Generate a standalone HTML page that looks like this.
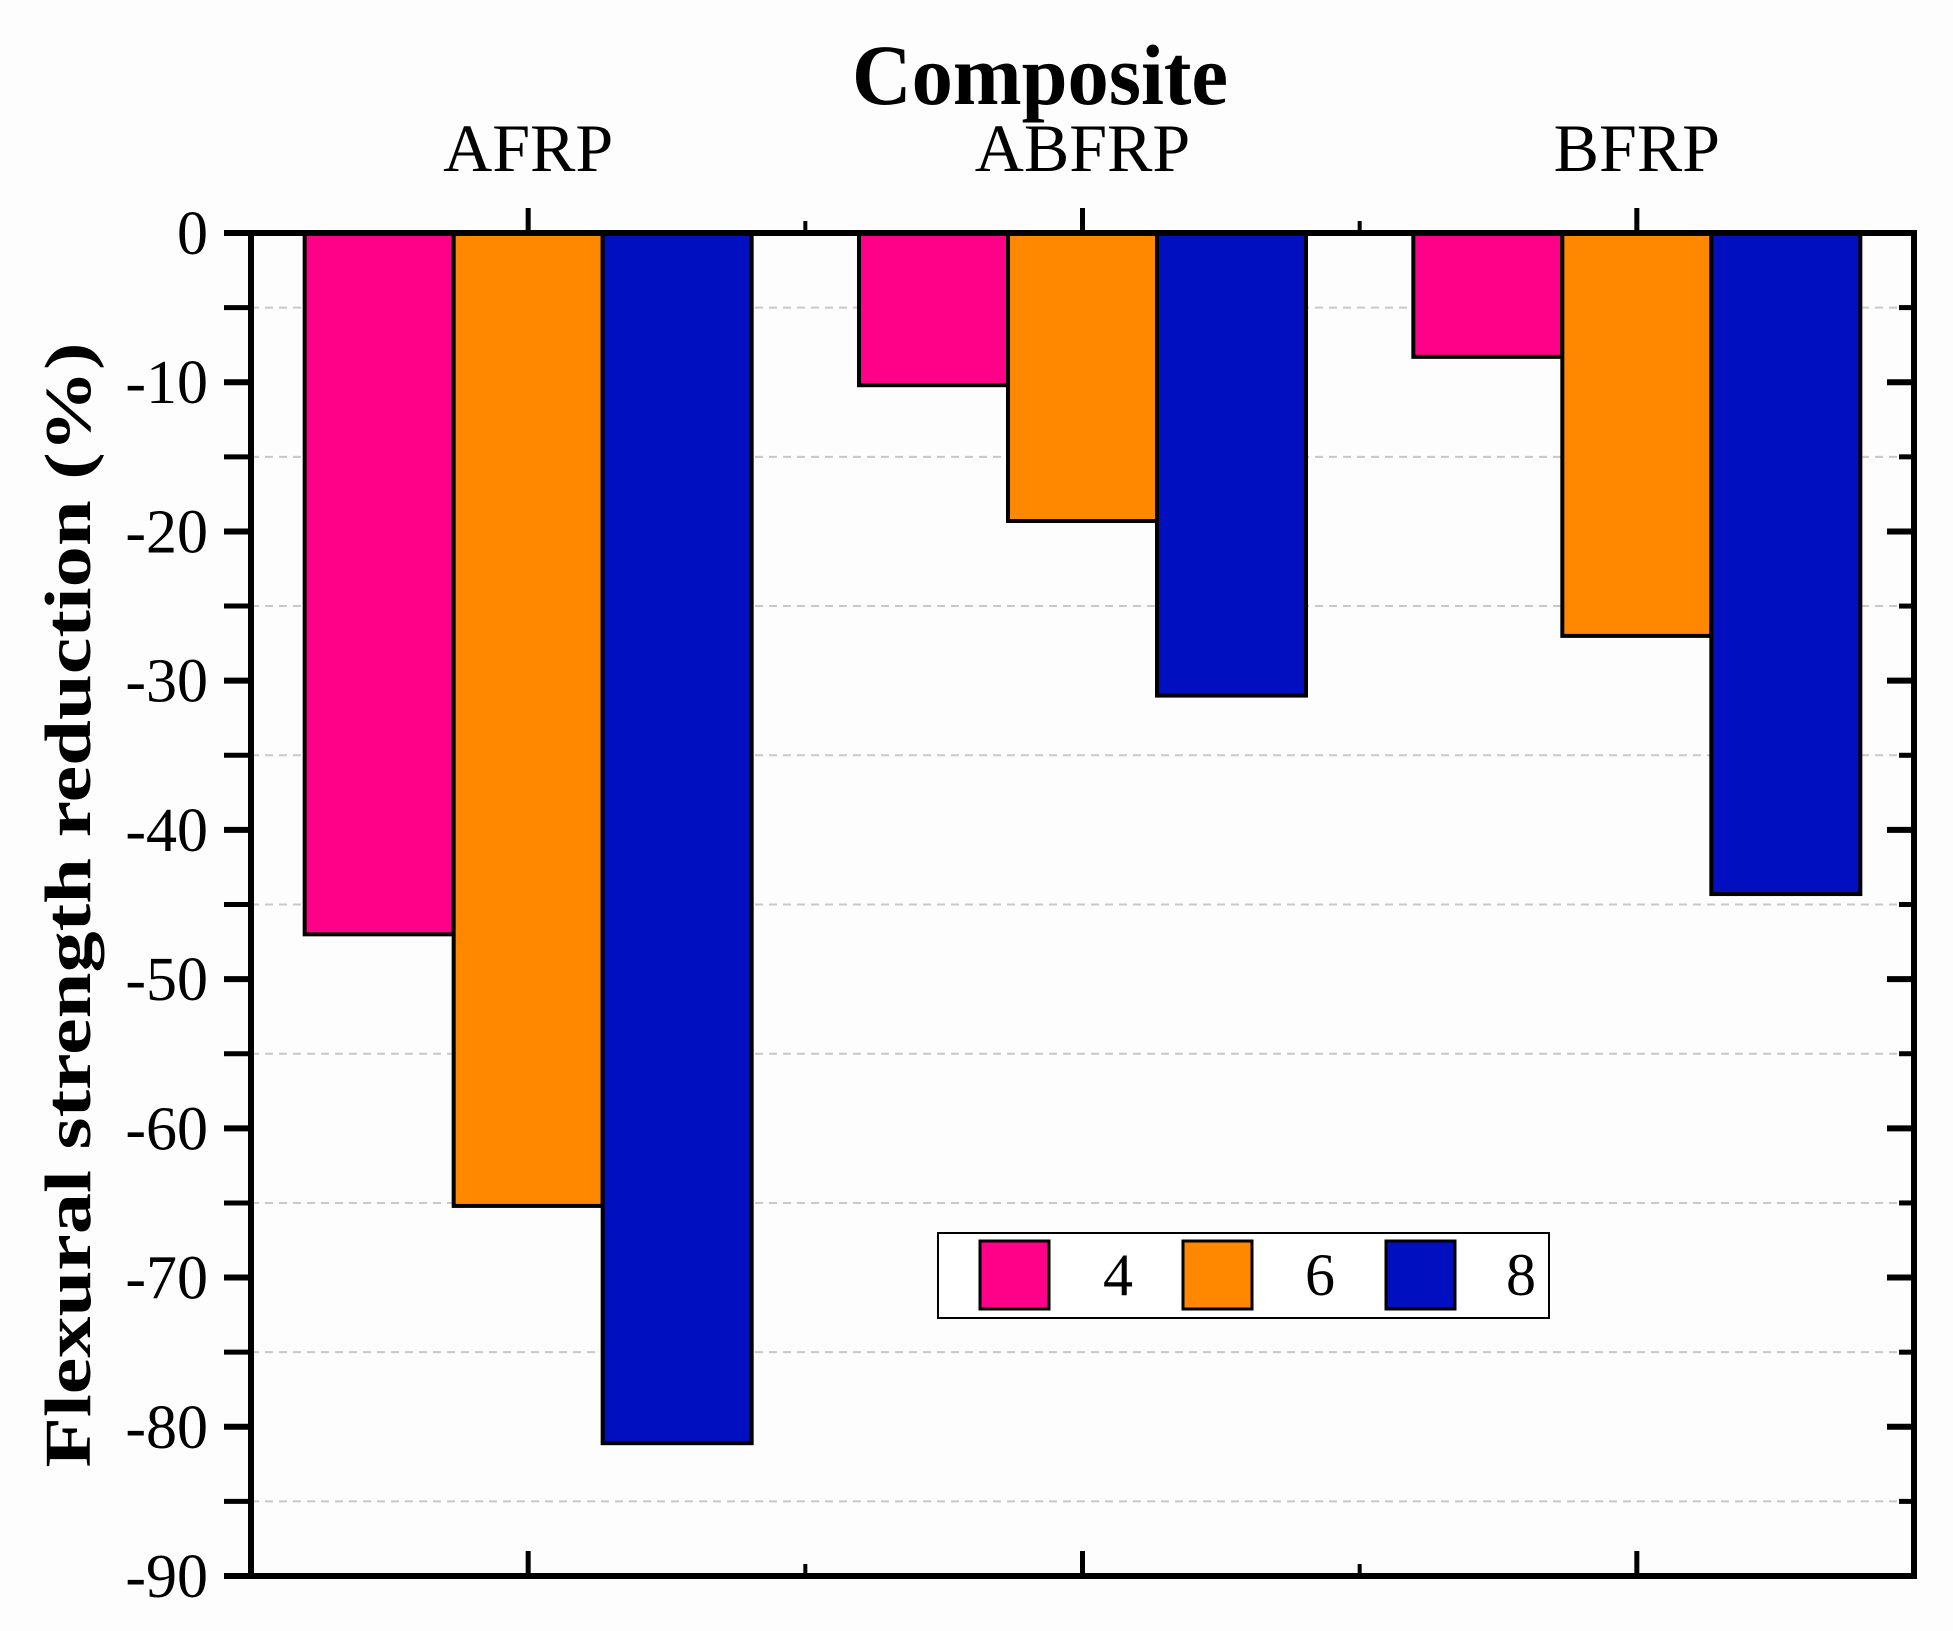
<!DOCTYPE html>
<html><head><meta charset="utf-8"><style>
body{margin:0;background:#fdfdfd;}
svg{display:block;font-family:"Liberation Serif",serif;}
</style></head><body>
<svg id="chart" width="1953" height="1631">
<rect width="1953" height="1631" fill="#fdfdfd"/>
<g id="grid"></g><g id="bars"></g><g id="axes"></g>
<text x="1040" y="104" font-size="86" font-weight="bold" text-anchor="middle" textLength="376" lengthAdjust="spacingAndGlyphs">Composite</text>
<text transform="translate(90,905) rotate(-90)" font-size="66" font-weight="bold" text-anchor="middle" textLength="1125" lengthAdjust="spacingAndGlyphs">Flexural strength reduction (%)</text>
<g>
<rect x="938" y="1233" width="611" height="85" fill="#fff" stroke="#000" stroke-width="2"/>
<rect x="980" y="1241" width="69" height="68" fill="#ff0088" stroke="#000" stroke-width="3"/>
<text x="1118" y="1295" font-size="60" text-anchor="middle">4</text>
<rect x="1183" y="1241" width="69" height="68" fill="#ff8800" stroke="#000" stroke-width="3"/>
<text x="1320" y="1295" font-size="60" text-anchor="middle">6</text>
<rect x="1386" y="1241" width="69" height="68" fill="#0010c0" stroke="#000" stroke-width="3"/>
<text x="1521" y="1295" font-size="60" text-anchor="middle">8</text>
</g>
</svg>
<script>
const categories = ["AFRP","ABFRP","BFRP"];
const series4 = [-47, -10.2, -8.3];
const series6 = [-65.2, -19.3, -27];
const series8 = [-81.1, -31, -44.3];
const yTicks = [0,-10,-20,-30,-40,-50,-60,-70,-80,-90];
const seriesNames = ["4","6","8"];
const colors = ["#ff0088","#ff8800","#0010c0"];
const NS="http://www.w3.org/2000/svg";
const L=251,R=1914,T=233,B=1576;
function y(v){return T+(0-v)/90*(B-T);}
function xc(i){return L+(R-L)*(i+0.5)/3;}
const bw=149;
function mk(tag,attrs,parent){const e=document.createElementNS(NS,tag);for(const k in attrs)e.setAttribute(k,attrs[k]);document.getElementById(parent).appendChild(e);return e;}
for(let v=-5;v>-90;v-=10){
  const g=mk('line',{x1:L,x2:R,y1:y(v),y2:y(v),stroke:'#c8c8c8','stroke-width':2,'stroke-dasharray':'8 6'},'grid');
  
  
}
[series4,series6,series8].forEach((s,si)=>{
  s.forEach((v,ci)=>{
    const x0=xc(ci)+(si-1.5)*bw;
    const r=mk('rect',{x:x0,y:y(0),width:bw,height:y(v)-y(0),fill:colors[si],stroke:'#000','stroke-width':4},'bars');
    
    
  });
});
const ax=mk('rect',{x:L,y:T,width:R-L,height:B-T,fill:'none',stroke:'#000','stroke-width':6},'axes');


for(let v=0;v>=-90;v-=5){
  const major=v%10===0;
  mk('line',{x1:L-27,x2:L,y1:y(v),y2:y(v),stroke:'#000','stroke-width':major?6:5},'axes');
  mk('line',{x1:R,x2:R-(major?27:15),y1:y(v),y2:y(v),stroke:'#000','stroke-width':major?6:5},'axes');
}
yTicks.forEach(v=>{
  const t=mk('text',{x:208,y:y(v)+21,'font-size':62,'text-anchor':'end'},'axes');
  t.textContent=String(v);
  
  
});
categories.forEach((c,i)=>{
  mk('line',{x1:xc(i),x2:xc(i),y1:T,y2:T-25,stroke:'#000','stroke-width':5},'axes');
  mk('line',{x1:xc(i),x2:xc(i),y1:B,y2:B-25,stroke:'#000','stroke-width':5},'axes');
  const t=mk('text',{x:xc(i),y:171,'font-size':68,'text-anchor':'middle'},'axes');
  t.textContent=c;
  
  
});
for(let i=1;i<3;i++){
  const xb=L+(R-L)*i/3;
  mk('line',{x1:xb,x2:xb,y1:T,y2:T-12,stroke:'#000','stroke-width':4},'axes');
  mk('line',{x1:xb,x2:xb,y1:B,y2:B-12,stroke:'#000','stroke-width':4},'axes');
}
</script>
</body></html>
